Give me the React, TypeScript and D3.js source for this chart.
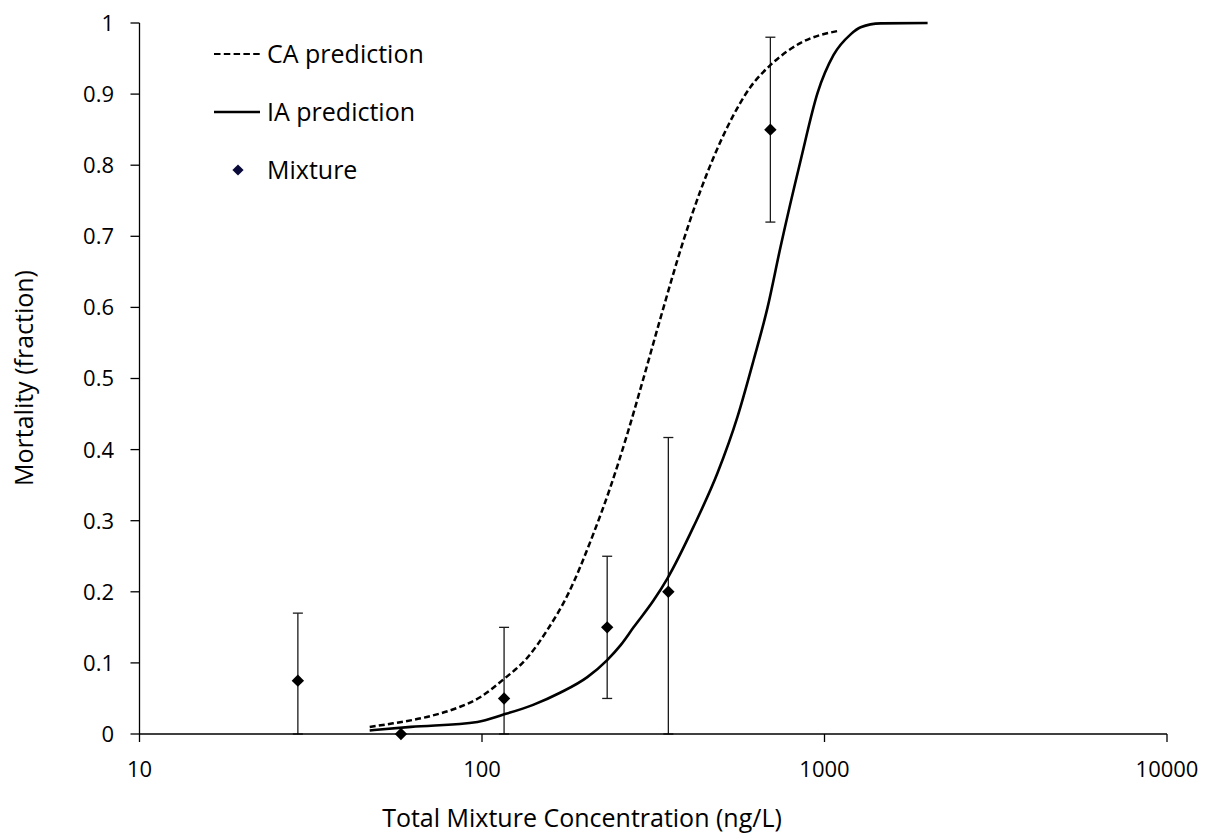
import React from "react";
import * as d3 from "d3";

// Concentration-addition prediction (ng/L, mortality fraction)
const caConc = [47, 55, 69, 86, 99, 115, 136, 155, 178, 212, 237, 266, 296, 332, 388, 435, 521, 608, 696, 852, 1100];
const caMort = [0.010, 0.015, 0.024, 0.038, 0.052, 0.076, 0.108, 0.146, 0.196, 0.283, 0.347, 0.423, 0.50, 0.585, 0.695, 0.765, 0.854, 0.910, 0.941, 0.972, 0.989];

// Independent-action prediction
const iaConc = [47, 62, 97, 115, 141, 169, 203, 232, 254, 277, 317, 348, 415, 487, 557, 621, 682, 744, 852, 955, 1063, 1192, 1275, 1459, 2000];
const iaMort = [0.005, 0.010, 0.017, 0.027, 0.041, 0.058, 0.080, 0.104, 0.125, 0.15, 0.188, 0.219, 0.292, 0.367, 0.446, 0.526, 0.60, 0.685, 0.807, 0.902, 0.955, 0.984, 0.994, 0.9995, 1.0];

// Observed mixture mortality with error bars
const mixConc = [29, 58, 116, 232, 350, 695];
const mixMort = [0.075, 0, 0.05, 0.15, 0.2, 0.85];
const mixLow = [0, 0, 0, 0.05, 0, 0.72];
const mixHigh = [0.17, 0, 0.15, 0.25, 0.417, 0.98];

const xTicks = [10, 100, 1000, 10000];
const yTicks = [0, 0.1, 0.2, 0.3, 0.4, 0.5, 0.6, 0.7, 0.8, 0.9, 1];

const legendItems = ["CA prediction", "IA prediction", "Mixture"];

const W = 1205;
const H = 836;
const FONT = "'Open Sans', 'Noto Sans', sans-serif";

export default function App() {
  const x = d3.scaleLog().domain([10, 10000]).range([139.5, 1167]);
  const y = d3.scaleLinear().domain([0, 1]).range([734, 23]);

  const line = d3
    .line<[number, number]>()
    .x((d) => x(d[0]))
    .y((d) => y(d[1]))
    .curve(d3.curveMonotoneX);

  const caPts = caConc.map((c, i) => [c, caMort[i]] as [number, number]);
  const iaPts = iaConc.map((c, i) => [c, iaMort[i]] as [number, number]);

  const diamondType = d3.symbolDiamond2 || d3.symbolDiamond;
  const diamond = d3.symbol().type(diamondType).size(98)() as string;
  const legendDiamond = d3.symbol().type(diamondType).size(80)() as string;

  const fmtY = (v: number) => (v === 0 ? "0" : v === 1 ? "1" : v.toFixed(1));

  return (
    <svg
      width={W}
      height={H}
      style={{ position: "absolute", left: 0, top: 0, background: "#fff" }}
      fontFamily={FONT}
    >
      <rect x={0} y={0} width={W} height={H} fill="#fff" />

      {/* error bars */}
      {mixConc.map((c, i) =>
        mixHigh[i] > mixLow[i] ? (
          <g key={"eb" + i} stroke="#1a1a1a" strokeWidth={1.3}>
            <line x1={x(c)} x2={x(c)} y1={y(mixLow[i])} y2={y(mixHigh[i])} />
            <line x1={x(c) - 5} x2={x(c) + 5} y1={y(mixHigh[i])} y2={y(mixHigh[i])} />
            <line x1={x(c) - 5} x2={x(c) + 5} y1={y(mixLow[i])} y2={y(mixLow[i])} />
          </g>
        ) : null
      )}

      {/* prediction curves */}
      <path d={line(caPts) || ""} fill="none" stroke="#000" strokeWidth={2.5} strokeDasharray="6,3.2" />
      <path d={line(iaPts) || ""} fill="none" stroke="#000" strokeWidth={2.6} />

      {/* axes */}
      <g stroke="#000" strokeWidth={1.3}>
        <line x1={x(10)} x2={x(10)} y1={y(0)} y2={y(1)} />
        <line x1={x(10)} x2={x(10000)} y1={y(0)} y2={y(0)} />
        {yTicks.map((t) => (
          <line key={"yt" + t} x1={x(10) - 9} x2={x(10)} y1={y(t)} y2={y(t)} />
        ))}
        {xTicks.map((t) => (
          <line key={"xt" + t} x1={x(t)} x2={x(t)} y1={y(0)} y2={y(0) + 8} />
        ))}
      </g>

      {/* observed points */}
      {mixConc.map((c, i) => (
        <path key={"pt" + i} d={diamond} transform={`translate(${x(c)},${y(mixMort[i])})`} fill="#000" />
      ))}

      {/* tick labels */}
      <g fontSize={22} fill="#000">
        {yTicks.map((t) => (
          <text key={"yl" + t} x={114} y={y(t)} dy="0.36em" textAnchor="end">
            {fmtY(t)}
          </text>
        ))}
        {xTicks.map((t) => (
          <text key={"xl" + t} x={x(t)} y={777} textAnchor="middle">
            {t}
          </text>
        ))}
      </g>

      {/* axis titles */}
      <text x={582} y={827} fontSize={25} textAnchor="middle" fill="#000">
        Total Mixture Concentration (ng/L)
      </text>
      <text
        transform={`translate(33,378) rotate(-90)`}
        fontSize={25}
        textAnchor="middle"
        fill="#000"
      >
        Mortality (fraction)
      </text>

      {/* legend */}
      <g fontSize={25} fill="#000">
        <line x1={214} x2={260} y1={54} y2={54} stroke="#000" strokeWidth={2} strokeDasharray="6.5,3.3" />
        <text x={267} y={54} dy="0.35em">{legendItems[0]}</text>
        <line x1={214} x2={260} y1={112} y2={112} stroke="#000" strokeWidth={2.5} />
        <text x={267} y={112} dy="0.35em">{legendItems[1]}</text>
        <path d={legendDiamond} transform="translate(238,170)" fill="#0a0a3a" />
        <text x={267} y={170} dy="0.35em">{legendItems[2]}</text>
      </g>
    </svg>
  );
}
